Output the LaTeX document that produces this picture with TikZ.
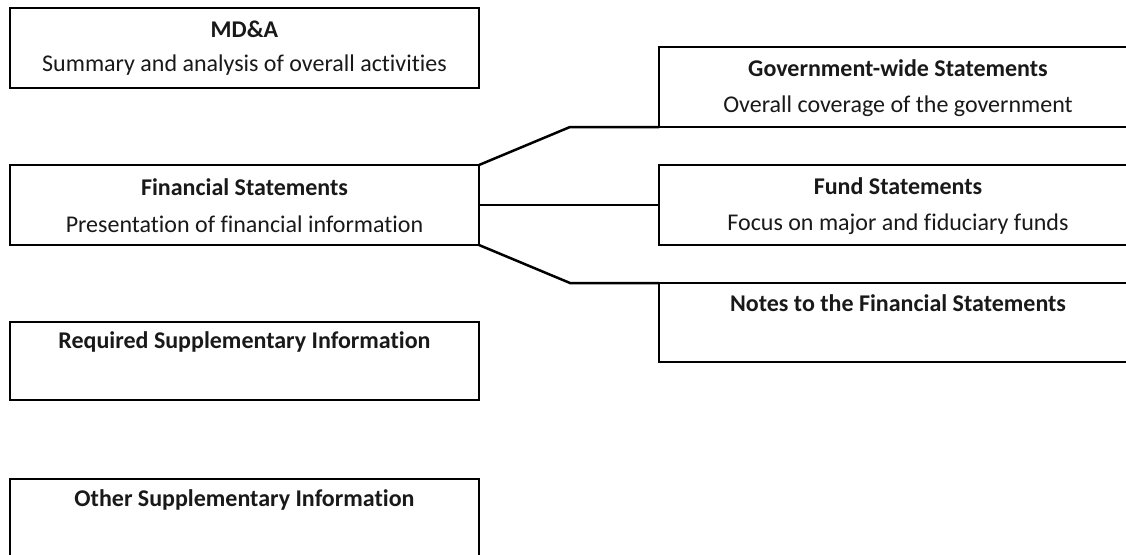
\documentclass[tikz,border=0pt]{standalone}
\usepackage{fontspec}
\setmainfont[Ligatures=NoCommon]{Carlito}
\begin{document}
\begin{tikzpicture}[x=1pt,y=-1pt,
  box/.style={draw=black,line width=2.5pt,rectangle,inner sep=0pt,outer sep=0pt,anchor=north west},
  lbox/.style={box,minimum width=469pt,minimum height=80pt},
  rbox/.style={box,minimum width=478pt,minimum height=79pt},
  ttl/.style={font=\fontsize{24}{28}\selectfont\bfseries,text=black!90,inner sep=0pt},
  sub/.style={font=\fontsize{24}{28}\selectfont,text=black!90,inner sep=0pt},
  conn/.style={draw=black,line width=2.5pt,line join=miter}]
\clip (0,0) rectangle (1126,554);
\fill[white] (0,0) rectangle (1126,554);
% left column
\node[lbox] (mda) at (10,8) {};
\node[ttl] (mdat) at ([yshift=-21pt]mda.north) {MD\&A};
\node[sub] (mdas) at ([yshift=-57pt]mda.north) {Summary and analysis of overall activities};
\node[lbox] (fin) at (10,165) {};
\node[ttl] (fint) at ([yshift=-22pt]fin.north) {Financial Statements};
\node[sub] (fins) at ([yshift=-59pt]fin.north) {Presentation of financial information};
\node[lbox,minimum height=78pt] (rsi) at (10,322) {};
\node[ttl] (rsit) at ([yshift=-20pt]rsi.north) {Required Supplementary Information};
\node[lbox] (osi) at (10,479) {};
\node[ttl] (osit) at ([yshift=-21pt]osi.north) {Other Supplementary Information};
% right column
\node[rbox,minimum height=80pt] (gov) at (659,47) {};
\node[ttl] (govt) at ([yshift=-21pt]gov.north) {Government-wide Statements};
\node[sub] (govs) at ([yshift=-59pt]gov.north) {Overall coverage of the government};
\node[rbox,minimum height=80pt] (fund) at (659,165) {};
\node[ttl] (fundt) at ([yshift=-21pt]fund.north) {Fund Statements};
\node[sub] (funds) at ([yshift=-59pt]fund.north) {Focus on major and fiduciary funds};
\node[rbox] (notes) at (659,283) {};
\node[ttl] (notest) at ([yshift=-20pt]notes.north) {Notes to the Financial Statements};
% connectors
\coordinate (b1) at (570,127);
\coordinate (b2) at (570,283);
\draw[conn] (fin.north east) -- (b1) -- (gov.south west);
\draw[conn] (fin.east) -- (fund.west);
\draw[conn] (fin.south east) -- (b2) -- (notes.north west);
\end{tikzpicture}
\end{document}
